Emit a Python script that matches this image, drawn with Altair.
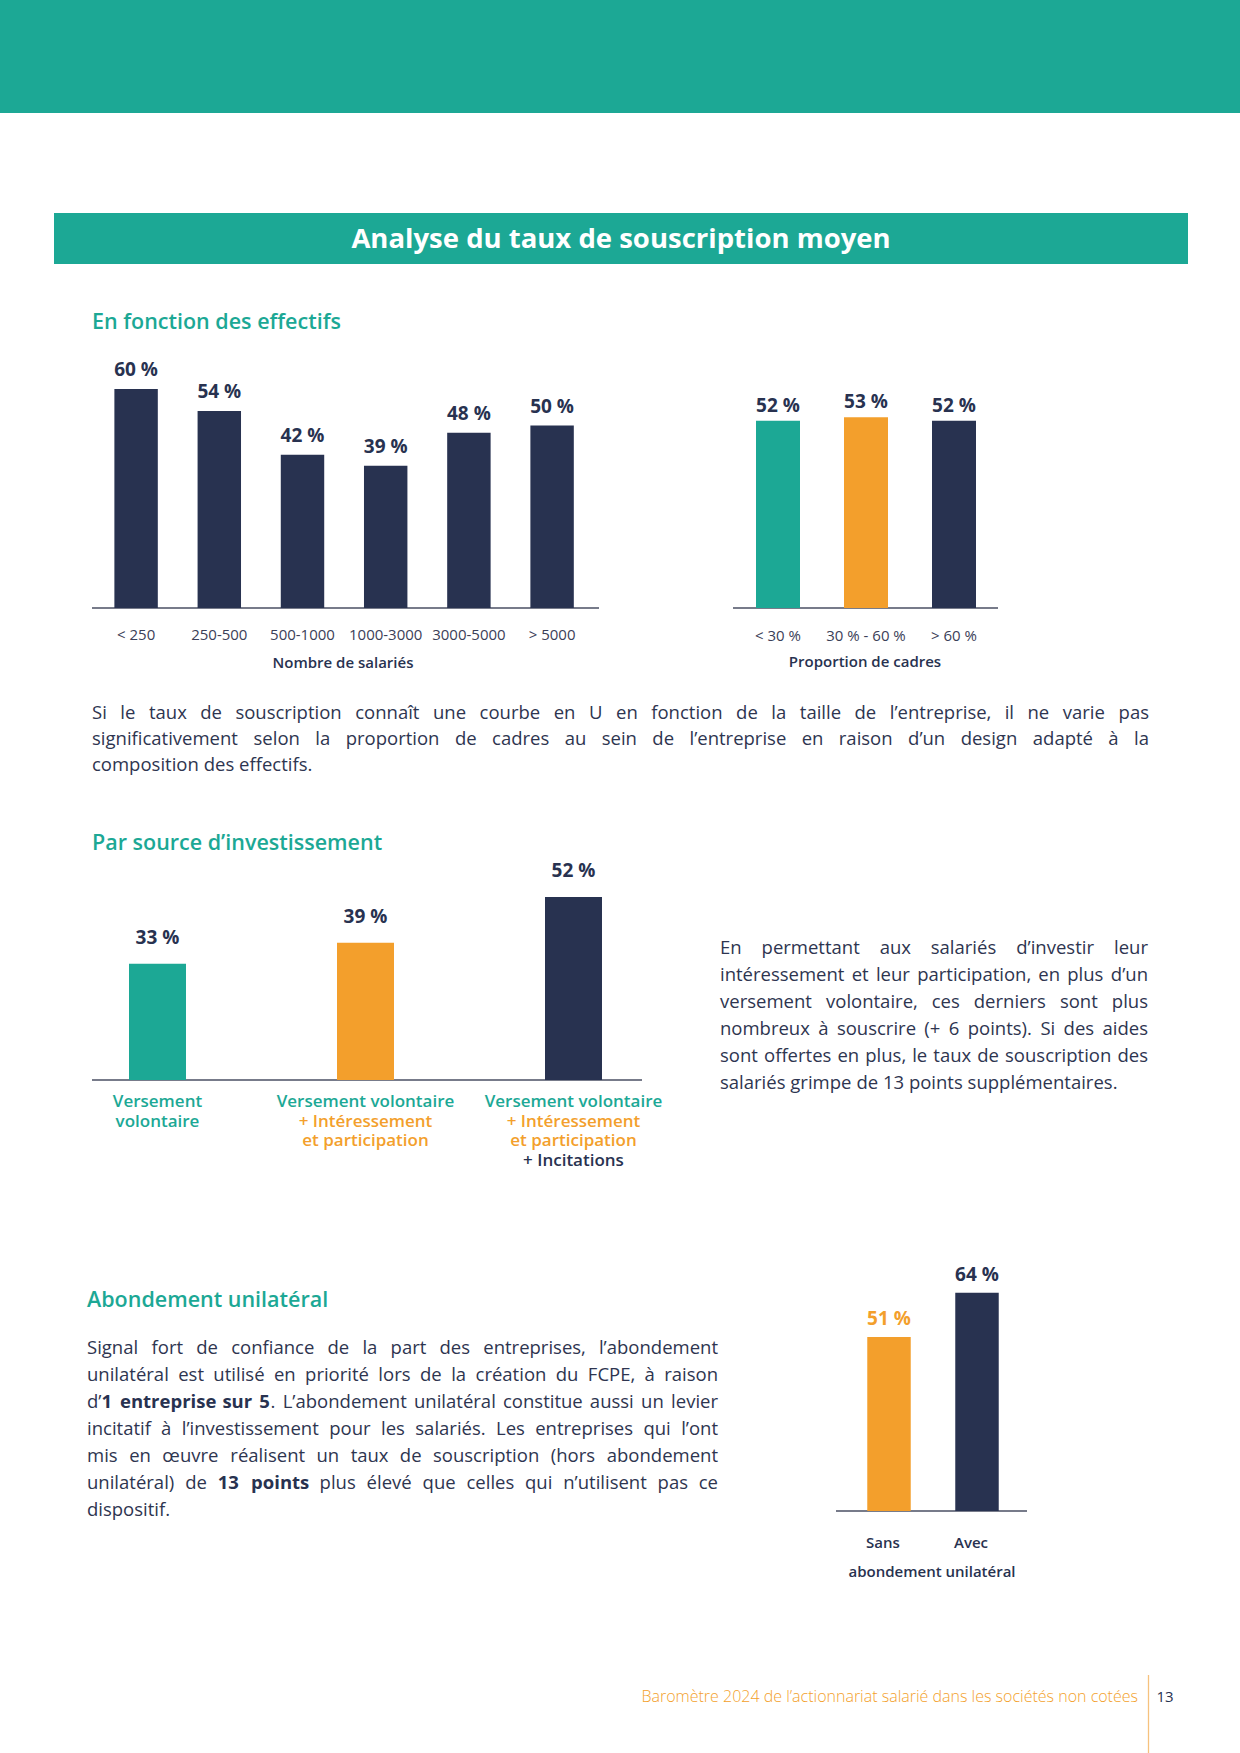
import altair as alt
import pandas as pd

TEAL = "#1CA895"
NAVY = "#283250"
ORANGE = "#F39F2C"
TEXT = "#2E3550"
AXIS = "#4A4F63"
FONT = "Open Sans"

# ---------------- data ----------------
eff_cats = ["< 250", "250-500", "500-1000", "1000-3000", "3000-5000", "> 5000"]
eff_vals = [60, 54, 42, 39, 48, 50]
eff_colors = [NAVY] * 6

cad_cats = ["< 30 %", "30 % - 60 %", "> 60 %"]
cad_vals = [52, 53, 52]
cad_colors = [TEAL, ORANGE, NAVY]

src_cats = ["VV", "VV+IP", "VV+IP+INC"]
src_vals = [33, 39, 52]
src_colors = [TEAL, ORANGE, NAVY]
src_lab_cat = ["VV", "VV", "VV+IP", "VV+IP", "VV+IP", "VV+IP+INC", "VV+IP+INC", "VV+IP+INC", "VV+IP+INC"]
src_lab_line = [0, 1, 0, 1, 2, 0, 1, 2, 3]
src_lab_text = ["Versement", "volontaire",
                "Versement volontaire", "+ Intéressement", "et participation",
                "Versement volontaire", "+ Intéressement", "et participation", "+ Incitations"]
src_lab_color = [TEAL, TEAL, TEAL, ORANGE, ORANGE, TEAL, ORANGE, ORANGE, NAVY]

abo_cats = ["Sans", "Avec"]
abo_vals = [51, 64]
abo_colors = [ORANGE, NAVY]

para1 = [
    "Si le taux de souscription connaît une courbe en U en fonction de la taille de l’entreprise, il ne varie pas",
    "significativement selon la proportion de cadres au sein de l’entreprise en raison d’un design adapté à la",
    "composition des effectifs.",
]
para2 = [
    "En permettant aux salariés d’investir leur",
    "intéressement et leur participation, en plus d’un",
    "versement volontaire, ces derniers sont plus",
    "nombreux à souscrire (+ 6 points). Si des aides",
    "sont offertes en plus, le taux de souscription des",
    "salariés grimpe de 13 points supplémentaires.",
]
para3 = [
    "Signal fort de confiance de la part des entreprises, l’abondement",
    "unilatéral est utilisé en priorité lors de la création du FCPE, à raison",
    "d’**1 entreprise sur 5**. L’abondement unilatéral constitue aussi un levier",
    "incitatif à l’investissement pour les salariés. Les entreprises qui l’ont",
    "mis en œuvre réalisent un taux de souscription (hors abondement",
    "unilatéral) de **13 points** plus élevé que celles qui n’utilisent pas ce",
    "dispositif.",
]

# ---------------- text layout helpers (approximate Open Sans advance widths, em) ----------------
_W = {" ": .26, "!": .26, "(": .30, ")": .30, "+": .57, ",": .245, "-": .32, ".": .266, ":": .266,
      "’": .17, "A": .633, "B": .648, "C": .631, "D": .729, "E": .556, "F": .516, "G": .728, "H": .738,
      "I": .279, "L": .519, "M": .903, "N": .754, "O": .779, "P": .602, "R": .618, "S": .549, "T": .553,
      "U": .733, "V": .591, "a": .556, "b": .613, "c": .476, "d": .613, "e": .561, "f": .336, "g": .548,
      "h": .614, "i": .253, "j": .253, "k": .525, "l": .253, "m": .930, "n": .614, "o": .604, "p": .613,
      "q": .613, "r": .408, "s": .477, "t": .353, "u": .614, "v": .507, "w": .786, "x": .516, "y": .509,
      "z": .461, "œ": .967, "à": .556, "â": .556, "é": .561, "è": .561, "ê": .561, "î": .253, "ï": .253,
      "ô": .604, "ù": .614, "û": .614, "ç": .476}


def tw(s, size, bold=False):
    w = sum(_W.get(c, .571 if c.isdigit() else .55) for c in s) * size
    return w * (1.07 if bold else 1.0)


def parse_words(line):
    words = [[]]
    for k, part in enumerate(line.split("**")):
        b = k % 2 == 1
        pieces = part.split(" ")
        for j, piece in enumerate(pieces):
            if j > 0:
                words.append([])
            if piece:
                words[-1].append((piece, b))
    return [w for w in words if w]


def layout_paragraph(lines, x0, x1, y0, dy, size):
    rows = []  # (x, y, text, bold, align)
    for i, line in enumerate(lines):
        y = y0 + dy * i
        words = parse_words(line)
        widths = [sum(tw(t, size, b) for t, b in w) for w in words]
        last = i == len(lines) - 1
        if last or len(words) < 2:
            gap = tw(" ", size)
        else:
            gap = max((x1 - x0 - sum(widths)) / (len(words) - 1), 2.0)
        x = x0
        for k, w in enumerate(words):
            if not last and k == len(words) - 1 and len(w) == 1:
                rows.append((x1, y, w[0][0], w[0][1], "right"))
                continue
            xs = x
            for t, b in w:
                rows.append((xs, y, t, b, "left"))
                xs += tw(t, size, b)
            x += widths[k] + gap
    return rows


layers = []


def text_layer(rows, weight="normal", align="left", baseline="middle"):
    df = pd.DataFrame(rows, columns=["x", "y", "text", "size", "color"])
    return alt.Chart(df).mark_text(
        font=FONT, fontWeight=weight, align=align, baseline=baseline
    ).encode(
        x=alt.X("x:Q", scale=None),
        y=alt.Y("y:Q", scale=None),
        text="text:N",
        size=alt.Size("size:Q", scale=None),
        color=alt.Color("color:N", scale=None),
    )


def rect_layer(rows, mark="rect"):
    df = pd.DataFrame(rows, columns=["x", "x2", "y", "y2", "color"])
    if mark == "rect":
        m = alt.Chart(df).mark_rect()
    else:
        m = alt.Chart(df).mark_rule(strokeWidth=1.3)
    return m.encode(
        x=alt.X("x:Q", scale=None),
        x2="x2:Q",
        y=alt.Y("y:Q", scale=None),
        y2="y2:Q",
        color=alt.Color("color:N", scale=None),
    )


# page decorations
layers.append(rect_layer([(0, 1240, 0, 113, TEAL), (54, 1188, 213, 264, TEAL)]))
layers.append(rect_layer([
    (92, 599, 608, 608, AXIS),
    (733, 998, 608, 608, AXIS),
    (92, 642, 1080, 1080, AXIS),
    (836, 1027, 1511, 1511, AXIS),
    (1148.5, 1148.5, 1675, 1753, "#F6C27E"),
], mark="rule"))


def bar_chart(cats, vals, colors, label_colors, xrange, pin, yrange, gap, cat_y,
              cat_size, cat_weight, cat_color, cat_dx=0):
    df = pd.DataFrame({
        "cat": cats, "val": vals, "color": colors,
        "lab": [f"{v} %" for v in vals], "labcolor": label_colors,
    })
    x = alt.X("cat:N", sort=cats, axis=None,
              scale=alt.Scale(range=xrange, paddingInner=pin, paddingOuter=pin / 2))
    y = alt.Y("val:Q", axis=None, scale=alt.Scale(domain=[0, 100], range=yrange))
    out = [
        alt.Chart(df).mark_bar().encode(x=x, y=y, color=alt.Color("color:N", scale=None)),
        alt.Chart(df).mark_text(font=FONT, fontSize=19, fontWeight="bold",
                                baseline="alphabetic", dy=-gap).encode(
            x=x, y=y, text="lab:N", color=alt.Color("labcolor:N", scale=None)),
    ]
    if cat_y is not None:
        out.append(alt.Chart(df).mark_text(font=FONT, fontSize=cat_size, fontWeight=cat_weight,
                                           baseline="middle", color=cat_color, dx=cat_dx).encode(
            x=x, y=alt.value(cat_y), text="cat:N"))
    return out


layers += bar_chart(eff_cats, eff_vals, eff_colors, [NAVY] * 6, [94.5, 593.7], 0.478,
                    [608, 243], 13, 635, 15, 400, "#3B4058")
layers += bar_chart(cad_cats, cad_vals, cad_colors, [NAVY] * 3, [734, 998], 0.5,
                    [608, 248], 9, 636, 15, 400, "#3B4058")
layers += bar_chart(src_cats, src_vals, src_colors, [NAVY] * 3, [53.5, 677.5], 0.726,
                    [1080, 728], 20, None, 15, 400, NAVY)
layers += bar_chart(abo_cats, abo_vals, abo_colors, [ORANGE, NAVY], [845, 1021], 0.506,
                    [1511, 1170], 12, 1543, 15, 600, NAVY, cat_dx=-6)

# multi-line coloured category labels of the "source" chart
src_lab_df = pd.DataFrame({"cat": src_lab_cat, "line": src_lab_line,
                           "text": src_lab_text, "color": src_lab_color})
layers.append(
    alt.Chart(src_lab_df).mark_text(font=FONT, fontSize=17, fontWeight=600, baseline="middle").encode(
        x=alt.X("cat:N", sort=src_cats, axis=None,
                scale=alt.Scale(range=[53.5, 677.5], paddingInner=0.726, paddingOuter=0.363)),
        y=alt.Y("line:Q", axis=None, scale=alt.Scale(domain=[0, 3], range=[1102, 1161])),
        text="text:N",
        color=alt.Color("color:N", scale=None),
    )
)

# headings
layers.append(text_layer([(621, 240, "Analyse du taux de souscription moyen", 27.5, "white")],
                         weight="bold", align="center"))
layers.append(text_layer([
    (92, 323, "En fonction des effectifs", 21.5, TEAL),
    (92, 844, "Par source d’investissement", 21.5, TEAL),
    (87, 1301, "Abondement unilatéral", 21.5, TEAL),
], weight=600))
layers.append(text_layer([
    (343, 663, "Nombre de salariés", 15, NAVY),
    (865, 662, "Proportion de cadres", 15, NAVY),
    (932, 1572, "abondement unilatéral", 15, NAVY),
], weight=600, align="center"))

# paragraphs (justified)
PSIZE = 18.5
prow = layout_paragraph(para1, 92, 1149, 713, 26, PSIZE)
prow += layout_paragraph(para2, 720, 1148, 948, 27, PSIZE)
prow += layout_paragraph(para3, 87, 718, 1348, 27.05, PSIZE)
for bold in (False, True):
    for align in ("left", "right"):
        sel = [(x, y, t, PSIZE, NAVY if b else TEXT) for x, y, t, b, a in prow if b == bold and a == align]
        if sel:
            layers.append(text_layer(sel, weight="bold" if bold else "normal", align=align))

# footer
layers.append(text_layer([(1138, 1697, "Baromètre 2024 de l’actionnariat salarié dans les sociétés non cotées",
                           16, ORANGE)], weight=300, align="right"))
layers.append(text_layer([(1165, 1697, "13", 15, NAVY)], align="center"))

chart = alt.layer(*layers).resolve_scale(
    x="independent", y="independent", color="independent", size="independent"
).properties(
    width=1240, height=1753, padding=0,
    autosize=alt.AutoSizeParams(type="none"),
    background="white",
).configure_view(stroke=None)

chart.save("out.html", embed_options={"renderer": "svg", "actions": False})
